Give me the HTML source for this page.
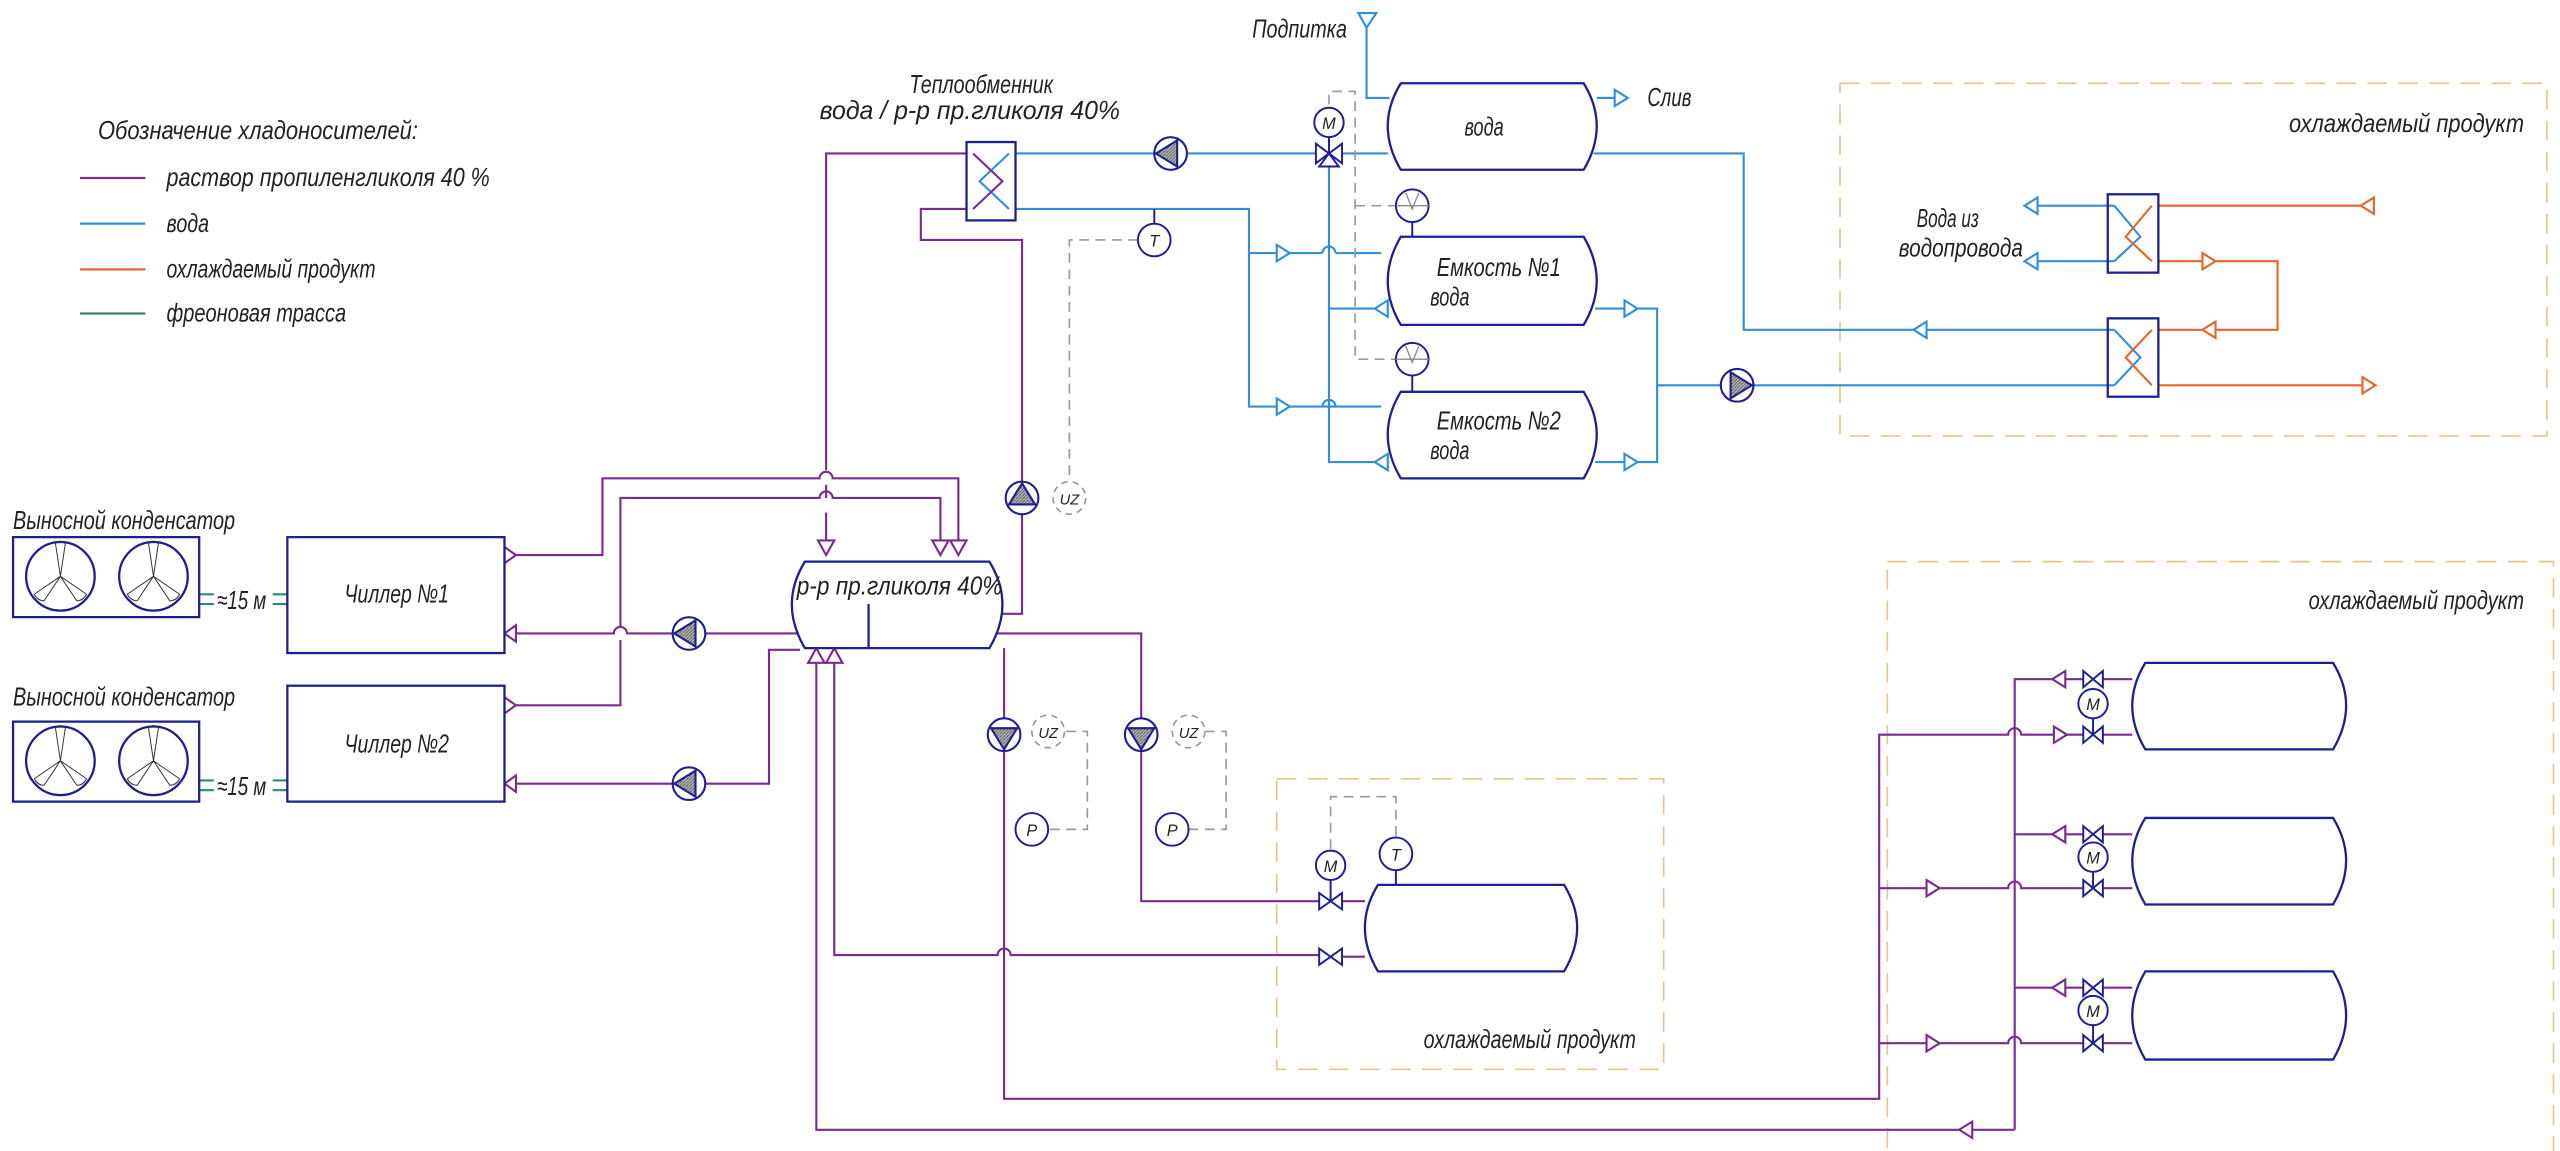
<!DOCTYPE html>
<html><head><meta charset="utf-8"><style>
html,body{margin:0;padding:0;background:#fff;}
svg{display:block;}
text{font-family:"Liberation Sans",sans-serif;font-style:italic;fill:#222;}
</style></head><body>
<svg width="2560" height="1151" viewBox="0 0 1568 705" preserveAspectRatio="none" xmlns="http://www.w3.org/2000/svg">
<defs>
<pattern id="h" width="2" height="2" patternUnits="userSpaceOnUse"><rect width="2" height="2" fill="#bbb"/><path d="M0,2 L2,0" stroke="#555" stroke-width="0.6"/></pattern>
</defs>
<g fill="none" stroke-linejoin="miter">
<g stroke="#e8c48a" stroke-width="1" stroke-dasharray="12,7">
<rect x="1127" y="51" width="433" height="216"/>
<rect x="1156" y="344" width="408" height="370"/>
<rect x="782" y="477" width="237" height="178"/>
</g>

<line x1="49" y1="109" x2="89" y2="109" stroke="#7b2a8f" stroke-width="1.4"/>
<line x1="49" y1="137" x2="89" y2="137" stroke="#2f8fd8" stroke-width="1.4"/>
<line x1="49" y1="165" x2="89" y2="165" stroke="#e8642a" stroke-width="1.4"/>
<line x1="49" y1="192" x2="89" y2="192" stroke="#2a8a7a" stroke-width="1.4"/>

<g stroke="#2f8fd8" stroke-width="1.3">
<path d="M622,94 H707 M727,94 H807 M821,94 H850"/>
<path d="M622,128 H765 V249 H846 M765,155 H810 M818,155 H846"/>
<path d="M810,249 A4,4 0 0 1 818,249"/>
<path d="M810,155 A4,4 0 0 1 818,155"/>
<path d="M837,10 V60 H851"/>
<path d="M978,60 H996"/>
<path d="M814,100 V283 H848 M814,189 H848"/>
<path d="M977,189 H1015 V283 H977 M1015,236 H1054 M1074,236 H1295"/>
<path d="M976,94 H1068 V202 H1295"/>
<path d="M1295,126 H1244 M1295,160 H1244"/>
<path d="M618,94 L600,111 L618,128"/>
<path d="M1295,126 L1311,145 L1295,160 M1295,202 L1311,219 L1295,236"/>
</g>
<g stroke="#2f8fd8" stroke-width="1.3" fill="#fff">
<polygon points="832,8 843,8 837,17"/>
<polygon points="989,55 997,60 989,65"/>
<polygon points="782,150 790,155 782,160"/>
<polygon points="782,244 790,249 782,254"/>
<polygon points="850,184 842,189 850,194"/>
<polygon points="850,278 842,283 850,288"/>
<polygon points="995,184 1003,189 995,194"/>
<polygon points="995,278 1003,283 995,288"/>
<polygon points="1180,197 1172,202 1180,207"/>
<polygon points="1248,121 1240,126 1248,131"/>
<polygon points="1248,155 1240,160 1248,165"/>
</g>

<g stroke="#e8642a" stroke-width="1.3">
<path d="M1322,126 H1454 M1322,160 H1395 V202 H1322 M1322,236 H1454"/>
<path d="M1318,126 L1302,145 L1318,160 M1318,202 L1302,219 L1318,236"/>
</g>
<g stroke="#e8642a" stroke-width="1.3" fill="#fff">
<polygon points="1454,121 1446,126 1454,131"/>
<polygon points="1349,155 1357,160 1349,165"/>
<polygon points="1357,197 1349,202 1357,207"/>
<polygon points="1447,231 1455,236 1447,241"/>
</g>

<g stroke="#7b2a8f" stroke-width="1.3">
<path d="M592,94 H506 V288 M506,297 V305 M506,314 V337"/>
<path d="M592,128 H564 V147 H626 V295 M626,315 V376 H612"/>
<path d="M309,340 H369 V293 H502 A4,4 0 0 1 510,293 H587 V337"/>
<path d="M309,432 H380 V392 M380,384 V305 H502 A4,4 0 0 1 510,305 H576 V337"/>
<path d="M488,388 H432 M412,388 H384 A4,4 0 0 0 376,388 H309"/>
<path d="M309,480 H412 M432,480 H471 V398 H490"/>
<path d="M500,402 V692 H1234 M511,402 V585 H611 A4,4 0 0 1 619,585 H808"/>
<path d="M611,388 H699 V440 M699,460 V552 H808"/>
<path d="M615,397 V440 M615,460 V673 H1151 V450 H1230 A4,4 0 0 1 1238,450 H1276"/>
<path d="M1234,692 V416 H1276"/>
<path d="M1151,544 H1230 A4,4 0 0 1 1238,544 H1276 M1234,511 H1276"/>
<path d="M1151,639 H1230 A4,4 0 0 1 1238,639 H1276 M1234,605 H1276"/>
<path d="M1288,416 H1306 M1288,450 H1306 M1288,511 H1306 M1288,544 H1306 M1288,605 H1306 M1288,639 H1306"/>
<path d="M822,552 H836 M822,586 H836"/>
<path d="M596,94 L614,111 L596,128"/>
</g>
<g stroke="#7b2a8f" stroke-width="1.3" fill="#fff">
<polygon points="501,331 511,331 506,340"/>
<polygon points="582,331 592,331 587,340"/>
<polygon points="571,331 581,331 576,340"/>
<polygon points="495,406 505,406 500,397"/>
<polygon points="506,406 516,406 511,397"/>
<polygon points="309,335 316,340 309,345"/>
<polygon points="309,427 316,432 309,437"/>
<polygon points="316,383 309,388 316,393"/>
<polygon points="316,475 309,480 316,485"/>
<polygon points="1208,687 1200,692 1208,697"/>
<polygon points="1265,411 1257,416 1265,421"/>
<polygon points="1258,445 1266,450 1258,455"/>
<polygon points="1265,506 1257,511 1265,516"/>
<polygon points="1180,539 1188,544 1180,549"/>
<polygon points="1265,600 1257,605 1265,610"/>
<polygon points="1180,634 1188,639 1180,644"/>
</g>

<g stroke="#2a8a7a" stroke-width="1.3">
<path d="M122,364 H131 M122,370 H131 M167,364 H176 M167,370 H176"/>
<path d="M122,478 H131 M122,484 H131 M167,478 H176 M167,484 H176"/>
</g>

<g stroke="#999" stroke-width="1" stroke-dasharray="6,4">
<path d="M697,147 H655 V293"/>
<path d="M814,64 V56 H830 V220 H855 M830,126 H855"/>
<path d="M653,448 H666 V508 H642"/>
<path d="M738,448 H751 V508 H728"/>
<path d="M815,520 V488 H855 V513"/>
</g>
<g stroke="#999" stroke-width="1" stroke-dasharray="4,3">
<circle cx="655" cy="305" r="10"/>
<circle cx="642" cy="448" r="10"/>
<circle cx="728" cy="448" r="10"/>
</g>

<g stroke="#1f1f8f" stroke-width="1.4" fill="#fff">
<rect x="592" y="87" width="30" height="48" fill="none"/>
<rect x="1291" y="119" width="31" height="48" fill="none"/>
<rect x="1291" y="195" width="31" height="48" fill="none"/>
<path d="M858,51 H970 Q986,77 970,104 H858 Q842,77 858,51 Z"/>
<path d="M858,145 H970 Q986,172 970,199 H858 Q842,172 858,145 Z"/>
<path d="M858,240 H970 Q986,266 970,293 H858 Q842,266 858,240 Z"/>
<path d="M493,344 H606 Q622,370 606,397 H493 Q477,370 493,344 Z"/>
<path d="M844,542 H958 Q974,568 958,595 H844 Q828,568 844,542 Z"/>
<path d="M1314,406 H1429 Q1445,432 1429,459 H1314 Q1298,432 1314,406 Z"/>
<path d="M1314,501 H1429 Q1445,527 1429,554 H1314 Q1298,527 1314,501 Z"/>
<path d="M1314,595 H1429 Q1445,622 1429,649 H1314 Q1298,622 1314,595 Z"/>
<rect x="176" y="329" width="133" height="71"/>
<rect x="176" y="420" width="133" height="71"/>
<rect x="8" y="329" width="114" height="49"/>
<rect x="8" y="442" width="114" height="49"/>
<circle cx="37" cy="353" r="21"/><circle cx="94" cy="353" r="21"/>
<circle cx="37" cy="466" r="21"/><circle cx="94" cy="466" r="21"/>
</g>
<line x1="532" y1="370" x2="532" y2="397" stroke="#1f1f8f" stroke-width="1.4"/>
<g stroke="#333" stroke-width="0.6" fill="none">
<path d="M37,353 L34,333 Q37,330 40,333 Z M37,353 L21,364 Q23,368 27,368 Z M37,353 L53,364 Q51,368 47,368 Z"/>
<path d="M94,353 L91,333 Q94,330 97,333 Z M94,353 L78,364 Q80,368 84,368 Z M94,353 L110,364 Q108,368 104,368 Z"/>
<path d="M37,466 L34,446 Q37,443 40,446 Z M37,466 L21,477 Q23,481 27,481 Z M37,466 L53,477 Q51,481 47,481 Z"/>
<path d="M94,466 L91,446 Q94,443 97,446 Z M94,466 L78,477 Q80,481 84,481 Z M94,466 L110,477 Q108,481 104,481 Z"/>
</g>

<g stroke="#1f1f8f" stroke-width="1.3">
<circle cx="717" cy="94" r="10" fill="#fff"/><polygon points="708,94 721,86 721,102" fill="url(#h)"/>
<circle cx="422" cy="388" r="10" fill="#fff"/><polygon points="413,388 426,380 426,396" fill="url(#h)"/>
<circle cx="422" cy="480" r="10" fill="#fff"/><polygon points="413,480 426,472 426,488" fill="url(#h)"/>
<circle cx="626" cy="305" r="10" fill="#fff"/><polygon points="626,296 618,309 634,309" fill="url(#h)"/>
<circle cx="615" cy="450" r="10" fill="#fff"/><polygon points="615,459 607,446 623,446" fill="url(#h)"/>
<circle cx="699" cy="450" r="10" fill="#fff"/><polygon points="699,459 691,446 707,446" fill="url(#h)"/>
<circle cx="1064" cy="236" r="10" fill="#fff"/><polygon points="1073,236 1060,228 1060,244" fill="url(#h)"/>
</g>

<g stroke="#1f1f8f" stroke-width="1.2" fill="#fff">
<circle cx="707" cy="147" r="10"/>
<circle cx="814" cy="75" r="9"/>
<circle cx="865" cy="126" r="10"/>
<circle cx="865" cy="220" r="10"/>
<circle cx="632" cy="508" r="10"/>
<circle cx="718" cy="508" r="10"/>
<circle cx="815" cy="530" r="9"/>
<circle cx="855" cy="523" r="10"/>
<circle cx="1282" cy="431" r="9"/>
<circle cx="1282" cy="525" r="9"/>
<circle cx="1282" cy="619" r="9"/>
</g>
<g stroke="#1f1f8f" stroke-width="1.2">
<path d="M707,128 V137 M865,136 V145 M865,230 V240 M855,533 V542 M815,539 V552 M814,84 V94 M1282,440 V450 M1282,534 V544 M1282,628 V639"/>
<path d="M855,126 H875 M861,118 L865,128 L869,118 M855,220 H875 M861,212 L865,222 L869,212" stroke="#888" stroke-width="0.8"/>
<path d="M806,88 L814,94 L806,100 Z M822,88 L814,94 L822,100 Z M808,102 L814,94 L820,102 Z" fill="#fff"/>
<path d="M808,547 L822,557 V547 L808,557 Z M808,581 L822,591 V581 L808,591 Z"/>
<path d="M1276,411 L1288,421 V411 L1276,421 Z M1276,445 L1288,455 V445 L1276,455 Z"/>
<path d="M1276,506 L1288,516 V506 L1276,516 Z M1276,539 L1288,549 V539 L1276,549 Z"/>
<path d="M1276,600 L1288,610 V600 L1276,610 Z M1276,634 L1288,644 V634 L1276,644 Z"/>
</g>
</g>

<g font-size="10" text-anchor="middle" style="font-style:normal">
<text x="707" y="151">T</text><text x="814" y="79">M</text>
<text x="632" y="512">P</text><text x="718" y="512">P</text>
<text x="815" y="534">M</text><text x="855" y="527">T</text>
<text x="1282" y="435">M</text><text x="1282" y="529">M</text><text x="1282" y="623">M</text>
<text x="655" y="309" font-size="9" fill="#555">UZ</text>
<text x="642" y="452" font-size="9" fill="#555">UZ</text>
<text x="728" y="452" font-size="9" fill="#555">UZ</text>
</g>

<g font-size="16">
<text x="60" y="85" textLength="196" lengthAdjust="spacingAndGlyphs">Обозначение хладоносителей:</text>
<text x="102" y="114" textLength="198" lengthAdjust="spacingAndGlyphs">раствор пропиленгликоля 40 %</text>
<text x="102" y="142" textLength="26" lengthAdjust="spacingAndGlyphs">вода</text>
<text x="102" y="170" textLength="128" lengthAdjust="spacingAndGlyphs">охлаждаемый продукт</text>
<text x="102" y="197" textLength="110" lengthAdjust="spacingAndGlyphs">фреоновая трасса</text>
<text x="557" y="57" textLength="88" lengthAdjust="spacingAndGlyphs">Теплообменник</text>
<text x="502" y="73" textLength="184" lengthAdjust="spacingAndGlyphs">вода / р-р пр.гликоля 40%</text>
<text x="767" y="23" textLength="58" lengthAdjust="spacingAndGlyphs">Подпитка</text>
<text x="1009" y="65" textLength="27" lengthAdjust="spacingAndGlyphs">Слив</text>
<text x="897" y="83" textLength="24" lengthAdjust="spacingAndGlyphs">вода</text>
<text x="880" y="169" textLength="76" lengthAdjust="spacingAndGlyphs">Емкость №1</text>
<text x="876" y="187" textLength="24" lengthAdjust="spacingAndGlyphs">вода</text>
<text x="880" y="263" textLength="76" lengthAdjust="spacingAndGlyphs">Емкость №2</text>
<text x="876" y="281" textLength="24" lengthAdjust="spacingAndGlyphs">вода</text>
<text x="1174" y="139" textLength="38" lengthAdjust="spacingAndGlyphs">Вода из</text>
<text x="1163" y="157" textLength="76" lengthAdjust="spacingAndGlyphs">водопровода</text>
<text x="1402" y="81" textLength="144" lengthAdjust="spacingAndGlyphs">охлаждаемый продукт</text>
<text x="1414" y="373" textLength="132" lengthAdjust="spacingAndGlyphs">охлаждаемый продукт</text>
<text x="872" y="642" textLength="130" lengthAdjust="spacingAndGlyphs">охлаждаемый продукт</text>
<text x="8" y="324" textLength="136" lengthAdjust="spacingAndGlyphs">Выносной конденсатор</text>
<text x="8" y="432" textLength="136" lengthAdjust="spacingAndGlyphs">Выносной конденсатор</text>
<text x="133" y="373" textLength="30" lengthAdjust="spacingAndGlyphs">≈15 м</text>
<text x="133" y="487" textLength="30" lengthAdjust="spacingAndGlyphs">≈15 м</text>
<text x="211" y="369" textLength="64" lengthAdjust="spacingAndGlyphs">Чиллер №1</text>
<text x="211" y="461" textLength="64" lengthAdjust="spacingAndGlyphs">Чиллер №2</text>
<text x="488" y="364" textLength="126" lengthAdjust="spacingAndGlyphs">р-р пр.гликоля 40%</text>
</g>
</svg>
</body></html>
